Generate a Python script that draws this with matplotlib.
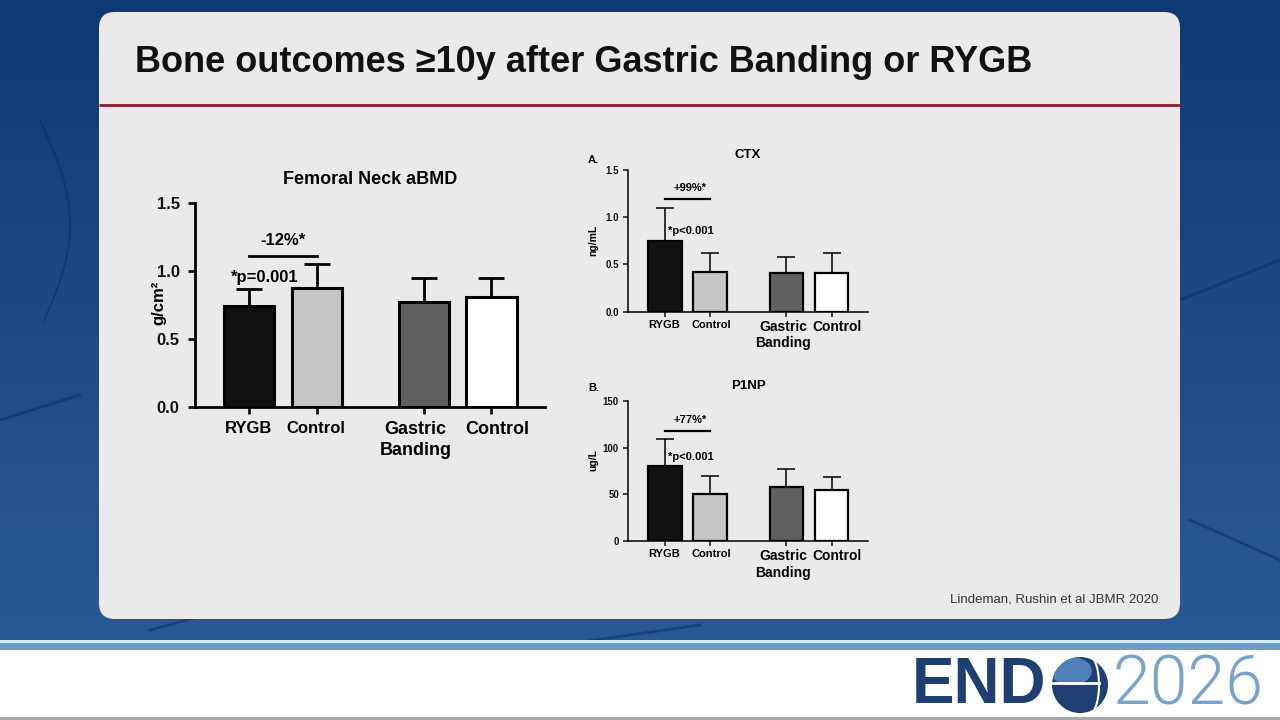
import numpy as np
import matplotlib
matplotlib.use('Agg')
import matplotlib.pyplot as plt
from matplotlib.patches import FancyBboxPatch, Rectangle, Circle, Ellipse
from matplotlib.transforms import offset_copy

plt.rcParams['font.family'] = ['Liberation Sans', 'DejaVu Sans']

# data
groups = ['RYGB', 'Control', 'Gastric\nBanding', 'Control']

fn_bmd = [0.745, 0.873, 0.774, 0.806]
fn_bmd_sd = [0.123, 0.177, 0.172, 0.144]

ctx = [0.751, 0.423, 0.413, 0.406]
ctx_sd = [0.343, 0.201, 0.169, 0.218]

p1np = [80.4, 50.4, 58.2, 54.6]
p1np_sd = [28.6, 19.2, 19.3, 13.6]

bar_colors = ['#111111', '#c6c6c6', '#606060', '#ffffff']

W, H = 1280, 720
fig = plt.figure(figsize=(12.8, 7.2), dpi=100)

# slide background in pixel coords
bg = fig.add_axes([0, 0, 1, 1])
bg.set_xlim(0, W)
bg.set_ylim(H, 0)
bg.axis('off')
grad = np.linspace(0, 1, 200)[:, None]
bg.imshow(grad, cmap=matplotlib.colors.LinearSegmentedColormap.from_list('b', ['#0d3a73', '#2a5a96']),
          extent=[0, W, 645, 0], aspect='auto', zorder=0)
# faint texture curves
t = np.linspace(0, 1, 100)
for xs, ys in [([0, 80], [420, 395]), ([1180, 1280], [300, 260]), ([1190, 1280], [520, 560]),
               ([150, 260], [630, 600]), ([560, 700], [645, 625])]:
    bg.plot(xs, ys, color='#0b2d5c', lw=2, alpha=0.5, zorder=1)
bg.plot(40 + 30 * np.sin(t * 3), 120 + t * 200, color='#0b2d5c', lw=1.5, alpha=0.5, zorder=1)

panel = FancyBboxPatch((99, 12), 1081, 607, boxstyle='round,pad=0,rounding_size=16',
                       fc='#eaeaea', ec='none', zorder=2)
bg.add_patch(panel)
bg.plot([99, 1180], [105, 105], color='#8c1c2c', lw=2, zorder=3, solid_capstyle='butt')
bg.text(135, 63, 'Bone outcomes \u226510y after Gastric Banding or RYGB', fontsize=26,
        fontweight='bold', color='#111111', va='center', ha='left', zorder=4)
bg.text(1158, 600, 'Lindeman, Rushin et al JBMR 2020', fontsize=9.5, color='#333333',
        ha='right', va='center', zorder=4)

# footer band
bg.add_patch(Rectangle((0, 640), W, 4, fc='#d6edf8', ec='none', zorder=2))
bg.add_patch(Rectangle((0, 643), W, 7, fc='#6f9dcb', ec='none', zorder=2))
bg.add_patch(Rectangle((0, 650), W, 70, fc='#ffffff', ec='none', zorder=2))
bg.add_patch(Rectangle((0, 717), W, 3, fc='#a8a8a8', ec='none', zorder=2))

# ENDO 2026 logo
bg.text(912, 686, 'END', fontsize=46, fontweight='bold', color='#1d3f72',
        ha='left', va='center', zorder=4)
globe = Circle((1080, 685), 28, fc='#1d3f72', ec='none', zorder=4)
bg.add_patch(globe)
hl = Ellipse((1071, 671), 42, 28, fc='#4f7fb8', ec='none', zorder=5)
hl.set_clip_path(globe)
bg.add_patch(hl)
bg.plot([1052, 1099], [683, 683], color='white', lw=2, zorder=6)
arc_t = np.linspace(-1.2, 1.2, 50)
bg.plot(1090 + 9 * np.cos(arc_t), 685 + 28 * np.sin(arc_t), color='white', lw=1.5, zorder=6)
bg.text(1112, 686, '2026', fontsize=49, fontweight=300, color='#7aa3cc',
        family=['Roboto', 'Open Sans', 'Liberation Sans'], ha='left', va='center', zorder=4)


def px_axes(left, right, bottom, top):
    return fig.add_axes([left / W, (H - bottom) / H, (right - left) / W, (bottom - top) / H])


def bar_panel(ax, xpos, vals, sds, width, lw_axis, lw_bar, capsize, ylim, yticks,
              tick_fs, label_sizes, label_dx, label_dy, ylab, ylab_fs, ylab_xy,
              title, title_fs, tick_len, pad, lsp):
    ax.set_facecolor('none')
    ax.bar(xpos, vals, width=width, color=bar_colors, edgecolor='black', linewidth=lw_bar, zorder=2)
    ax.errorbar(xpos, vals, yerr=[np.zeros(len(vals)), sds], fmt='none', ecolor='black',
                elinewidth=lw_axis, capsize=capsize, capthick=lw_axis, zorder=1)
    ax.set_ylim(*ylim)
    ax.set_yticks(yticks)
    ax.set_xticks(xpos)
    ax.set_xticklabels([])
    # category labels placed by hand (the slide nudges them apart)
    for x, lab, fs, dx in zip(xpos, groups, label_sizes, label_dx):
        tr = offset_copy(ax.get_xaxis_transform(), fig=fig, x=dx, y=-label_dy, units='dots')
        ax.text(x, 0, lab, transform=tr, fontsize=fs, fontweight='bold', ha='center',
                va='top', multialignment='center', linespacing=lsp)
    for lab in ax.get_yticklabels():
        lab.set_fontsize(tick_fs)
        lab.set_fontweight('bold')
    for s in ['top', 'right']:
        ax.spines[s].set_visible(False)
    for s in ['left', 'bottom']:
        ax.spines[s].set_linewidth(lw_axis)
    ax.tick_params(width=lw_axis, length=tick_len, pad=pad, colors='#111111')
    ax.set_ylabel(ylab, fontsize=ylab_fs, fontweight='bold')
    ax.yaxis.set_label_coords(*ylab_xy)
    ax.set_title(title, fontsize=title_fs, fontweight='bold', pad=title_fs * 0.9)


# Femoral neck
ax1 = px_axes(195, 545, 407, 203)
pos1 = [0, 1, 2.58, 3.57]
bar_panel(ax1, pos1, fn_bmd, fn_bmd_sd, 0.74, 2, 2.2, 9.5, (0, 1.5), [0, 0.5, 1.0, 1.5],
          12, [12, 12, 13, 13], [-1, -1, -9, 6], 14, 'g/cm\u00b2', 12, (-0.083, 0.51),
          'Femoral Neck aBMD', 13, 5, 6, 1.3)
ax1.set_xlim(-0.80, 4.36)
ax1.set_title('Femoral Neck aBMD', fontsize=13, fontweight='bold', pad=14)
ax1.plot([pos1[0], pos1[1]], [1.113, 1.113], color='black', lw=2, clip_on=False)
ax1.text(0.5, 1.225, '-12%*', fontsize=12, fontweight='bold', ha='center', va='center')
ax1.text(0.23, 0.955, '*p=0.001', fontsize=12, fontweight='bold', ha='center', va='center')

# CTX
pos2 = [0, 1, 2.7, 3.7]
ax2 = px_axes(628, 868, 311.7, 170)
bar_panel(ax2, pos2, ctx, ctx_sd, 0.75, 1.1, 1.6, 6.5, (0, 1.5), [0, 0.5, 1.0, 1.5],
          7, [8, 8, 10, 10], [-1, 1, -3, 5], 8, 'ng/mL', 7.5, (-0.125, 0.5), 'CTX', 9.5,
          3.5, 3, 1.25)
ax2.set_xlim(-0.82, 4.51)
ax2.plot([pos2[0], pos2[1]], [1.19, 1.19], color='black', lw=1.6, clip_on=False)
ax2.text(0.56, 1.31, '+99%*', fontsize=8, fontweight='bold', ha='center', va='center')
ax2.text(0.07, 0.855, '*p<0.001', fontsize=8, fontweight='bold', ha='left', va='center')
fig.text(588 / W, (H - 160) / H, 'A.', fontsize=8, fontweight='bold', ha='left', va='center')

# P1NP
ax3 = px_axes(628, 868, 541, 401)
bar_panel(ax3, pos2, p1np, p1np_sd, 0.75, 1.1, 1.6, 6.5, (0, 150), [0, 50, 100, 150],
          7, [8, 8, 10, 10], [-1, 1, -3, 5], 8, 'ug/L', 7.5, (-0.125, 0.58), 'P1NP', 9.5,
          3.5, 3, 1.25)
ax3.set_xlim(-0.82, 4.51)
ax3.plot([pos2[0], pos2[1]], [118, 118], color='black', lw=1.6, clip_on=False)
ax3.text(0.56, 129.6, '+77%*', fontsize=8, fontweight='bold', ha='center', va='center')
ax3.text(0.07, 90.3, '*p<0.001', fontsize=8, fontweight='bold', ha='left', va='center')
fig.text(588 / W, (H - 388) / H, 'B.', fontsize=8, fontweight='bold', ha='left', va='center')

fig.savefig('out.png', dpi=100)
